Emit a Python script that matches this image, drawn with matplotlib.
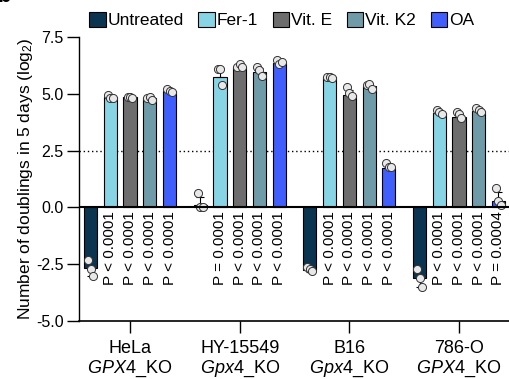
import numpy as np
import matplotlib.pyplot as plt
from matplotlib.patches import Patch

plt.rcParams['font.family'] = ['Liberation Sans', 'DejaVu Sans']
plt.rcParams['mathtext.fontset'] = 'custom'
plt.rcParams['mathtext.rm'] = 'Liberation Sans'
plt.rcParams['mathtext.it'] = 'Liberation Sans:italic'

cell_lines = ['HeLa\n$\\it{GPX4}$_KO', 'HY-15549\n$\\it{Gpx4}$_KO',
              'B16\n$\\it{Gpx4}$_KO', '786-O\n$\\it{GPX4}$_KO']
treatments = ['Untreated', 'Fer-1', 'Vit. E', 'Vit. K2', 'OA']
colors = ['#0b3450', '#86d4e4', '#6d6d6d', '#6f9ba8', '#3f5efb']

# mean doublings per cell line (rows) and treatment (cols)
means = [
    [-2.65, 4.85, 4.85, 4.80, 5.15],
    [0.10, 5.75, 6.20, 5.95, 6.35],
    [-2.75, 5.75, 4.95, 5.35, 1.75],
    [-3.10, 4.15, 4.00, 4.25, 0.30],
]
replicates = [
    [[-2.3, -2.7, -3.0], [4.95, 4.8, 4.8], [4.85, 4.85, 4.8], [4.8, 4.85, 4.75], [5.2, 5.15, 5.1]],
    [[0.65, 0.0, 0.0], [6.1, 6.1, 5.4], [6.2, 6.3, 6.2], [6.2, 6.05, 5.8], [6.5, 6.3, 6.4]],
    [[-2.6, -2.7, -2.8], [5.75, 5.75, 5.7], [5.3, 5.05, 4.9], [5.4, 5.45, 5.2], [1.95, 1.8, 1.8]],
    [[-2.7, -3.1, -3.5], [4.3, 4.2, 4.1], [4.2, 4.1, 3.95], [4.4, 4.3, 4.2], [0.85, 0.3, 0.1]],
]
pvals = [
    ['P < 0.0001', 'P < 0.0001', 'P < 0.0001', 'P < 0.0001'],
    ['P = 0.0001', 'P < 0.0001', 'P < 0.0001', 'P < 0.0001'],
    ['P < 0.0001', 'P < 0.0001', 'P < 0.0001', 'P < 0.0001'],
    ['P < 0.0001', 'P < 0.0001', 'P < 0.0001', 'P = 0.0004'],
]

fig = plt.figure(figsize=(5.1, 3.79), dpi=100)
ax = fig.add_axes([0.155, 0.153, 0.845, 0.749])

step = 0.18
width = 0.12
for g in range(len(cell_lines)):
    for t in range(len(treatments)):
        x = g + (t - 2) * step
        m = means[g][t]
        reps = np.array(replicates[g][t])
        ax.bar(x, m, width=width, color=colors[t], edgecolor='black', linewidth=0.8, zorder=2)
        sd = reps.std(ddof=1)
        # one-sided error bar pointing away from zero
        yerr = [[0], [sd]] if m >= 0 else [[sd], [0]]
        ax.errorbar(x, m, yerr=yerr, color='black', capsize=3, elinewidth=0.8,
                    capthick=0.8, zorder=3)
        offs = np.array([-0.022, 0.0, 0.022])
        ax.scatter(x + offs, reps, s=34, facecolor='#e8e8e8', edgecolor='#333333',
                   linewidth=0.7, zorder=4)
        if t > 0:
            ax.text(x, -0.15, pvals[g][t - 1], rotation=90, ha='center', va='top',
                    fontsize=11)

ax.axhline(0, color='black', linewidth=1.5, zorder=5)
ax.axhline(2.5, color='black', linewidth=1.0, linestyle=(0, (1, 2)), zorder=1)

ax.set_xlim(-0.465, 3.465)
ax.set_ylim(-5, 7.5)
ax.set_yticks([-5, -2.5, 0, 2.5, 5, 7.5])
ax.set_yticklabels(['-5.0', '-2.5', '0.0', '2.5', '5.0', '7.5'], fontsize=11.5)
ax.set_xticks(range(len(cell_lines)))
ax.set_xticklabels(cell_lines, fontsize=13, linespacing=1.15)
ax.tick_params(axis='x', length=8.5, width=1, pad=5)
ax.tick_params(axis='y', length=9, width=1, pad=2)
for side in ['top', 'right']:
    ax.spines[side].set_visible(False)
ax.spines['left'].set_linewidth(1)
ax.spines['bottom'].set_linewidth(1.2)
ax.set_ylabel('Number of doublings in 5 days (log$_2$)', fontsize=12.5, labelpad=1)

handles = [Patch(facecolor=c, edgecolor='black', linewidth=0.8) for c in colors]
fig.legend(handles, treatments, loc='center left', bbox_to_anchor=(0.175, 1 - 20 / 379),
           ncol=5, frameon=False, fontsize=12.5, handlelength=0.95, handleheight=0.95,
           handletextpad=0.1, columnspacing=0.85, borderaxespad=0, borderpad=0)

fig.text(-0.005, 1.01, 'b', fontsize=16, fontweight='bold', ha='left', va='center')

fig.savefig('out.png', dpi=100)
